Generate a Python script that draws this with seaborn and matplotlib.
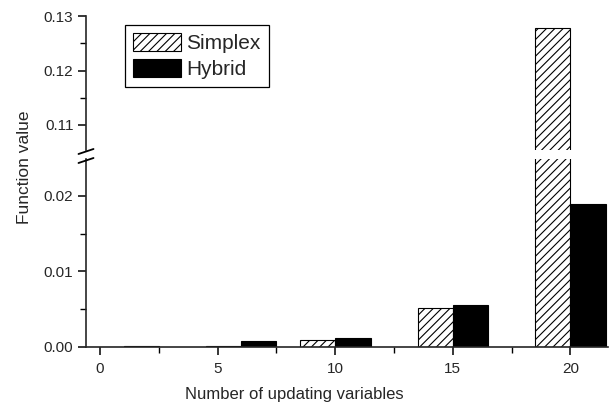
import matplotlib
matplotlib.use("Agg")
import matplotlib.pyplot as plt
from matplotlib.lines import Line2D
from matplotlib.patches import Patch
from matplotlib.ticker import MultipleLocator
import numpy as np
import pandas as pd
import seaborn as sns

# Function value reached by each optimiser vs. number of updating variables
n_vars = [1, 6, 10, 15, 20]
simplex = [0.00003, 0.00015, 0.0009, 0.0052, 0.1278]
hybrid = [0.00015, 0.0008, 0.00115, 0.0056, 0.0189]
methods = ["Simplex", "Hybrid"]
x_ticks = [0, 5, 10, 15, 20]
y_ticks_low = [0.00, 0.01, 0.02]
y_ticks_high = [0.11, 0.12, 0.13]

df = pd.DataFrame({
    "n": n_vars * 2,
    "value": simplex + hybrid,
    "method": [methods[0]] * len(n_vars) + [methods[1]] * len(n_vars),
})

sns.set_style("ticks")
plt.rcParams["font.family"] = ["Liberation Sans", "DejaVu Sans"]
plt.rcParams["hatch.linewidth"] = 0.8
plt.rcParams["hatch.color"] = "black"

W, H = 609, 405
fig = plt.figure(figsize=(W / 100, H / 100), dpi=100)
fig.patch.set_facecolor("white")

left, right = 86, 608
ax_top = fig.add_axes([left / W, 1 - 150 / H, (right - left) / W, (150 - 16) / H])
ax_bot = fig.add_axes([left / W, 1 - 347 / H, (right - left) / W, (347 - 159) / H])

HATCH = "////"
palette = {"Simplex": "white", "Hybrid": "black"}
for ax in (ax_top, ax_bot):
    sns.barplot(data=df, x="n", y="value", hue="method", hue_order=methods,
                palette=palette, native_scale=True, width=0.75,
                edgecolor="black", linewidth=0.8, saturation=1,
                errorbar=None, legend=False, ax=ax)
    for bar in ax.containers[0]:
        bar.set_hatch(HATCH)
    ax.set_xlim(-0.6, 21.6)
    ax.set_xlabel("")
    ax.set_ylabel("")
    ax.set_facecolor("white")
    for s in ("top", "right"):
        ax.spines[s].set_visible(False)
    ax.spines["left"].set_linewidth(1.2)
    ax.spines["bottom"].set_linewidth(1.2)
    ax.tick_params(axis="both", which="major", direction="out", length=6,
                   width=1.1, labelsize=11, pad=3, color="black")
    ax.tick_params(axis="both", which="minor", direction="out", length=4,
                   width=1.0, color="black")

# upper segment
ax_top.set_ylim(0.1054, 0.13005)
ax_top.set_yticks(y_ticks_high)
ax_top.set_yticklabels([f"{v:.2f}" for v in y_ticks_high])
ax_top.yaxis.set_minor_locator(MultipleLocator(0.005))
ax_top.spines["bottom"].set_visible(False)
ax_top.tick_params(axis="x", which="both", bottom=False, labelbottom=False)

# lower segment
ax_bot.set_ylim(0, 0.0249)
ax_bot.set_yticks(y_ticks_low)
ax_bot.set_yticklabels([f"{v:.2f}" for v in y_ticks_low])
ax_bot.yaxis.set_minor_locator(MultipleLocator(0.005))
ax_bot.set_xticks(x_ticks)
ax_bot.set_xticklabels([str(v) for v in x_ticks])
ax_bot.xaxis.set_minor_locator(MultipleLocator(2.5))
ax_bot.tick_params(axis="x", which="major", pad=5)

# axis-break marks on the y axis
to_fig = lambda px, py: (px / W, 1 - py / H)
for y0 in (154.0, 163.0):
    x1, y1 = to_fig(78.5, y0)
    x2, y2 = to_fig(93.5, y0 - 5)
    fig.add_artist(Line2D([x1, x2], [y1, y2], color="black", lw=1.3))

# axis titles
fig.text(25 / W, 1 - 167 / H, "Function value", rotation=90,
         ha="center", va="center", fontsize=12.5)
fig.text(294 / W, 1 - 395 / H, "Number of updating variables",
         ha="center", va="center", fontsize=12)

# legend
handles = [Patch(facecolor="white", edgecolor="black", hatch=HATCH, lw=0.8),
           Patch(facecolor="black", edgecolor="black", lw=0.8)]
leg = ax_top.legend(handles, methods, loc="upper left",
                    bbox_to_anchor=((125 - left) / (right - left), 1 - (25 - 16) / 134),
                    borderaxespad=0, fontsize=15, handlelength=2.3,
                    handleheight=0.95, handletextpad=0.25, labelspacing=0.25,
                    borderpad=0.4, fancybox=False, framealpha=1,
                    edgecolor="black")
leg.get_frame().set_linewidth(0.9)

fig.savefig("out.png", dpi=100, facecolor="white")
